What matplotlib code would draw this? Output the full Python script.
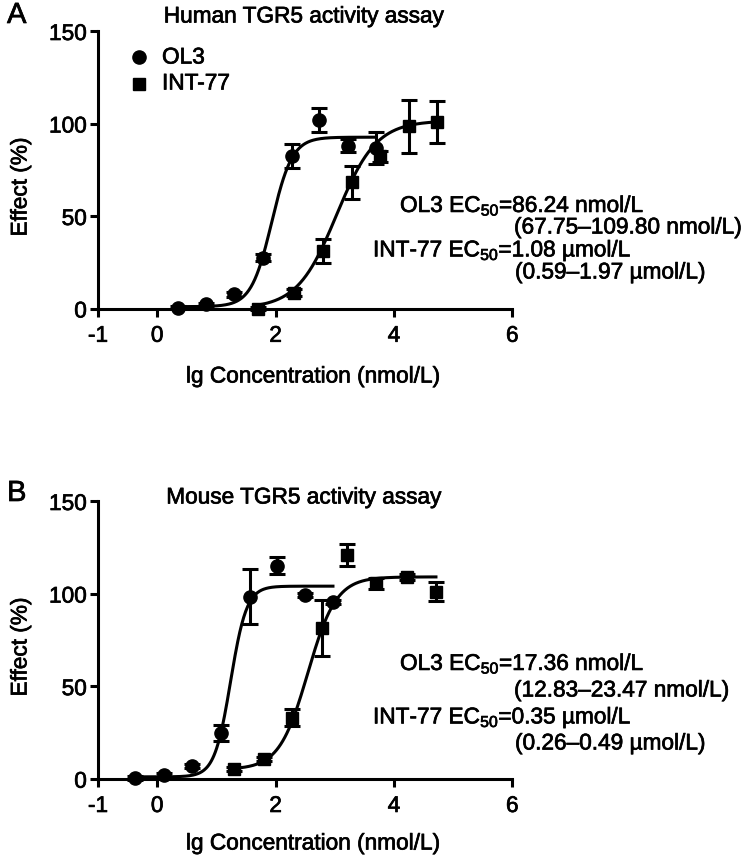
import numpy as np
import matplotlib
matplotlib.use("Agg")
import matplotlib.pyplot as plt
import matplotlib.patheffects as pe

plt.rcParams['font.family'] = ['Liberation Sans', 'DejaVu Sans']
plt.rcParams['mathtext.fontset'] = 'custom'
plt.rcParams['mathtext.rm'] = 'Liberation Sans'
plt.rcParams['mathtext.default'] = 'regular'
plt.rcParams['axes.unicode_minus'] = False

# ---------------- data ----------------
# Panel A: Human TGR5
ol3_a_x = [0.35, 0.83, 1.30, 1.79, 2.27, 2.74, 3.23, 3.70]
ol3_a_y = [0.5, 2.2, 7.6, 27.5, 82.2, 101.7, 88.0, 86.8]
ol3_a_err = [1.0, 1.0, 1.5, 2.0, 6.5, 6.5, 3.5, 8.5]
int_a_x = [1.71, 2.32, 2.80, 3.29, 3.77, 4.25, 4.73]
int_a_y = [0.0, 8.6, 31.0, 68.2, 82.2, 98.4, 100.8]
int_a_err = [1.0, 2.0, 6.5, 9.0, 3.0, 14.5, 11.5]
# fit parameters (bottom, top, logEC50, hill)
ol3_a_fit = (1.0, 92.6, 1.936, 2.5)
int_a_fit = (0.0, 101.5, 3.033, 1.3)

# Panel B: Mouse TGR5
ol3_b_x = [-0.37, 0.11, 0.58, 1.07, 1.56, 2.03, 2.49, 2.97]
ol3_b_y = [0.5, 2.0, 7.0, 24.6, 98.4, 115.0, 99.3, 95.3]
ol3_b_err = [1.0, 1.0, 1.0, 4.5, 15.0, 4.5, 1.0, 1.0]
int_b_x = [1.30, 1.81, 2.27, 2.78, 3.20, 3.69, 4.22, 4.71]
int_b_y = [5.3, 10.7, 33.0, 81.3, 121.0, 105.6, 108.8, 101.0]
int_b_err = [1.0, 1.0, 4.5, 15.0, 6.0, 3.0, 1.5, 5.0]
ol3_b_fit = (1.0, 104.0, 1.240, 3.2)
int_b_fit = (5.0, 109.0, 2.544, 1.8)

x_ticks = [-1, 0, 2, 4, 6]
y_ticks = [0, 50, 100, 150]
titles = ["Human TGR5 activity assay", "Mouse TGR5 activity assay"]
panel_letters = ["A", "B"]
ec50_texts = [
    ["OL3 EC$_{50}$=86.24 nmol/L", "(67.75\u2013109.80 nmol/L)",
     "INT-77 EC$_{50}$=1.08 \u00b5mol/L", "(0.59\u20131.97 \u00b5mol/L)"],
    ["OL3 EC$_{50}$=17.36 nmol/L", "(12.83\u201323.47 nmol/L)",
     "INT-77 EC$_{50}$=0.35 \u00b5mol/L", "(0.26\u20130.49 \u00b5mol/L)"],
]
series_names = ["OL3", "INT-77"]

# ---------------- layout ----------------
W, H = 750, 857
fig = plt.figure(figsize=(W / 100, H / 100), dpi=100)
heavy = [pe.withStroke(linewidth=0.5, foreground='black')]

def fx(px):
    return px / W

def fy(py):
    return 1 - py / H

def logistic(x, p):
    b, t, lec, h = p
    return b + (t - b) / (1 + 10 ** (h * (lec - x)))

FS = 16.3
LW = 2.2

panels = [
    dict(top=31, bottom=308.5, title_y=16, letter_y=15,
         ol3=(ol3_a_x, ol3_a_y, ol3_a_err, ol3_a_fit),
         intr=(int_a_x, int_a_y, int_a_err, int_a_fit),
         text_y=[205, 227, 250, 272], ylabel_y=187, xlabel_y=376,
         legend=True),
    dict(top=501, bottom=778.7, title_y=497, letter_y=493,
         ol3=(ol3_b_x, ol3_b_y, ol3_b_err, ol3_b_fit),
         intr=(int_b_x, int_b_y, int_b_err, int_b_fit),
         text_y=[663, 690, 717, 743], ylabel_y=647, xlabel_y=843,
         legend=False),
]

left_px, right_px = 98, 512.3
text_x = [400, 514, 373, 515]

for i, P in enumerate(panels):
    hpx = P['bottom'] - P['top']
    wpx = right_px - left_px
    ax = fig.add_axes([fx(left_px), fy(P['bottom']), wpx / W, hpx / H])
    ax.set_xlim(-1, 6)
    ax.set_ylim(0, 150)
    for s in ['top', 'right']:
        ax.spines[s].set_visible(False)
    for s in ['left', 'bottom']:
        ax.spines[s].set_linewidth(LW)
    ax.set_xticks(x_ticks)
    ax.set_yticks(y_ticks)
    ax.tick_params(width=LW, length=6, labelsize=FS, pad=2)
    ax.tick_params(axis='x', pad=5)
    for lab in ax.get_xticklabels() + ax.get_yticklabels():
        lab.set_path_effects(heavy)

    for key, marker, ms in [('ol3', 'o', 9.5), ('intr', 's', 9.0)]:
        xs, ys, es, fit = P[key]
        ax.errorbar(xs, ys, yerr=es, fmt=marker, color='black', ms=ms,
                    elinewidth=2.2, capsize=5.5, capthick=2.2, clip_on=False,
                    zorder=3)
        xx = np.linspace(min(xs), max(xs), 300)
        ax.plot(xx, logistic(xx, fit), color='black', lw=LW, clip_on=False,
                zorder=2)

    ax.set_xlabel("lg Concentration (nmol/L)", fontsize=FS, path_effects=heavy)
    ax.set_ylabel("Effect (%)", fontsize=FS, path_effects=heavy)
    ax.xaxis.set_label_coords((313 - left_px) / wpx,
                              (P['bottom'] - P['xlabel_y']) / hpx)
    ax.xaxis.label.set_va('center')
    ax.yaxis.set_label_coords((20 - left_px) / wpx,
                              (P['bottom'] - P['ylabel_y']) / hpx)
    ax.yaxis.label.set_va('center')

    fig.text(fx(304), fy(P['title_y']), titles[i], fontsize=FS, ha='center',
             va='center', path_effects=heavy)
    fig.text(fx(7), fy(P['letter_y']), panel_letters[i], fontsize=21,
             ha='left', va='center', path_effects=heavy)
    for j, t in enumerate(ec50_texts[i]):
        fig.text(fx(text_x[j]), fy(P['text_y'][j]), t, fontsize=FS,
                 ha='left', va='center', path_effects=heavy)

    if P['legend']:
        fig.text(fx(162), fy(57), series_names[0], fontsize=FS, va='center',
                 path_effects=heavy)
        fig.text(fx(162), fy(83), series_names[1], fontsize=FS, va='center',
                 path_effects=heavy)
        ax.plot([-0.31], [136], 'o', color='black', ms=9.5, clip_on=False)
        ax.plot([-0.31], [121.5], 's', color='black', ms=9.0, clip_on=False)

fig.savefig("out.png", dpi=100)
